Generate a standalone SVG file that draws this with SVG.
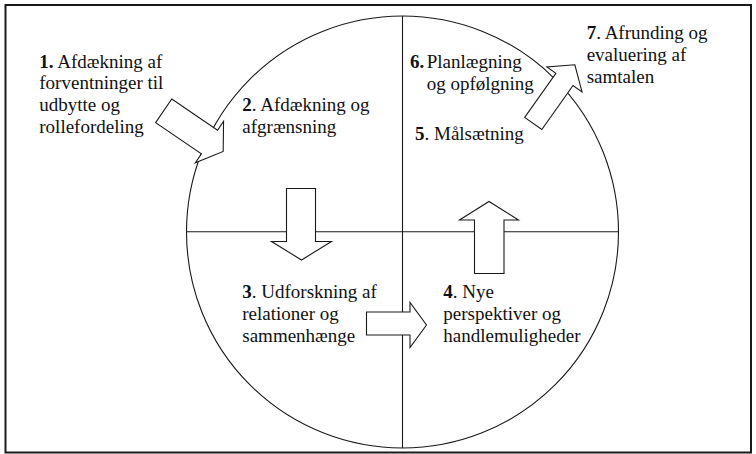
<svg xmlns="http://www.w3.org/2000/svg" width="756" height="454" viewBox="0 0 756 454">
  <style>
    .frame { fill: #ffffff; stroke: #1a1a1a; stroke-width: 2; }
    .ring { fill: none; stroke: #1a1a1a; stroke-width: 1.1; }
    .axis { stroke: #1a1a1a; stroke-width: 1.1; }
    .arrow { fill: #ffffff; stroke: #1a1a1a; stroke-width: 1.1; stroke-linejoin: miter; }
    .label { font-family: "Times New Roman", Times, "Liberation Serif", Tinos, "Nimbus Roman", "Nimbus Roman No9 L", FreeSerif, "Noto Serif", "DejaVu Serif", serif; font-size: 19px; fill: #111111; }
    .num { font-weight: bold; }
  </style>

  <!-- outer frame -->
  <rect class="frame" x="5.5" y="5" width="745.5" height="447.5"/>

  <!-- circle split into four quadrants -->
  <g id="cycle">
    <circle class="ring" cx="402.5" cy="232" r="216"/>
    <line class="axis" x1="402.5" y1="16" x2="402.5" y2="448"/>
    <line class="axis" x1="186.5" y1="231.7" x2="618.5" y2="231.7"/>
  </g>

  <!-- block arrows between the phases -->
  <g id="connectors">
    <polygon class="arrow" transform="translate(163.7 110.85) rotate(34.3)"
             points="0,-14.3 55.4,-14.3 55.4,-25 72,0 55.4,25 55.4,14.3 0,14.3"/>
    <polygon class="arrow" points="286.5,188.5 315.5,188.5 315.5,241.5 331.5,241.5 301.5,260 271.5,241.5 286.5,241.5"/>
    <polygon class="arrow" points="366.5,312 410,312 410,302.5 426.5,325 410,347.5 410,335 366.5,335"/>
    <polygon class="arrow" points="474.5,273.5 474.5,220 459.5,220 489,201.5 518.5,220 504,220 504,273.5"/>
    <polygon class="arrow" transform="translate(533.25 123.5) rotate(-54.7)"
             points="0,-10.5 54,-10.5 54,-21.5 72,0 54,21.5 54,10.5 0,10.5"/>
  </g>

  <g id="step1" class="label">
    <text x="39.3" y="67.5"><tspan class="num">1.</tspan> Afdækning af</text>
    <text x="39.3" y="89.2">forventninger til</text>
    <text x="39.3" y="110.9">udbytte og</text>
    <text x="39.3" y="132.6">rollefordeling</text>
  </g>

  <g id="step2" class="label">
    <text x="242.3" y="111"><tspan class="num">2</tspan>. Afdækning og</text>
    <text x="242.3" y="132.7">afgrænsning</text>
  </g>

  <g id="step3" class="label">
    <text x="242.3" y="298.3"><tspan class="num">3</tspan>. Udforskning af</text>
    <text x="242.3" y="320">relationer og</text>
    <text x="242.3" y="341.7">sammenhænge</text>
  </g>

  <g id="step4" class="label">
    <text x="443.3" y="298.3"><tspan class="num">4</tspan>. Nye</text>
    <text x="443.3" y="320">perspektiver og</text>
    <text x="443.3" y="341.7">handlemuligheder</text>
  </g>

  <g id="step5" class="label">
    <text x="415" y="140"><tspan class="num">5</tspan>. Målsætning</text>
  </g>

  <g id="step6" class="label">
    <text x="410" y="68.3"><tspan class="num">6.</tspan></text>
    <text x="426.7" y="68.3">Planlægning</text>
    <text x="426.7" y="90">og opfølgning</text>
  </g>

  <g id="step7" class="label">
    <text x="586.7" y="38.5"><tspan class="num">7</tspan>. Afrunding og</text>
    <text x="586.7" y="60.5">evaluering af</text>
    <text x="586.7" y="82.5">samtalen</text>
  </g>
</svg>
